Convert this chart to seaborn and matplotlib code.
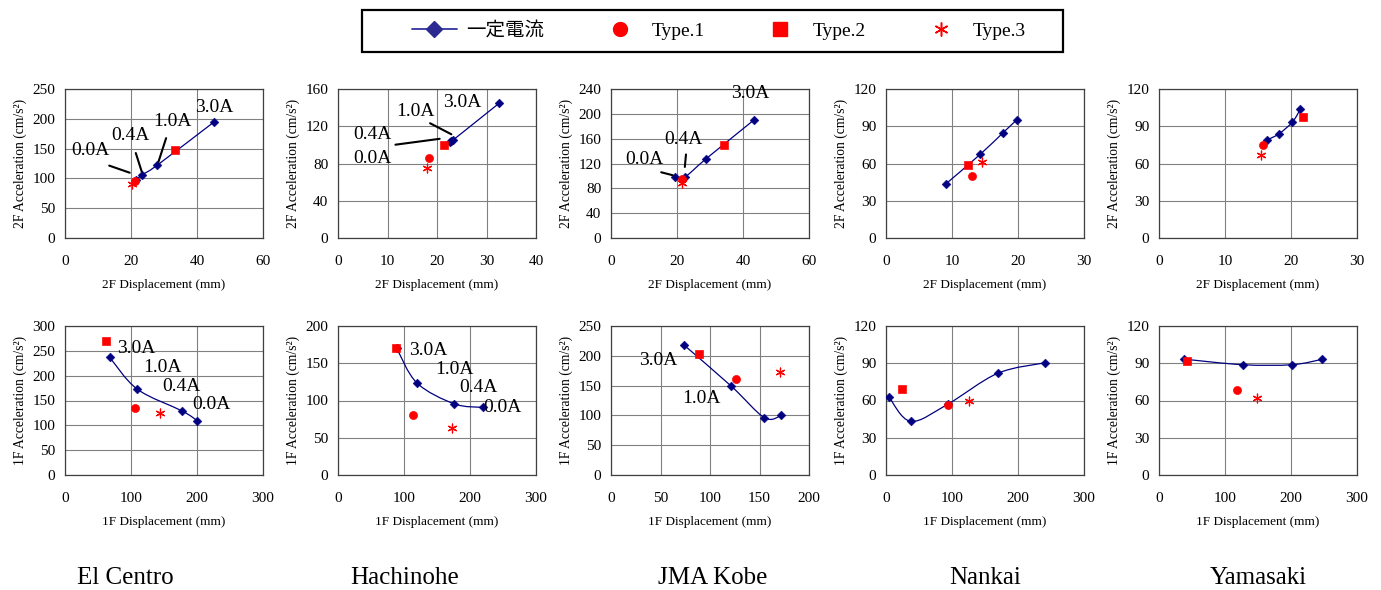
import numpy as np
import seaborn as sns
import matplotlib.pyplot as plt
from matplotlib.path import Path
from matplotlib.patches import PathPatch, Rectangle
from matplotlib.lines import Line2D
from matplotlib.ticker import MultipleLocator

# Wave names (bottom captions)
waves = ['El Centro', 'Hachinohe', 'JMA Kobe', 'Nankai', 'Yamasaki']

# 2F response (top row): constant-current series (0.0A, 0.4A, 1.0A, 3.0A)
disp2_const = [[21.5, 23.4, 27.9, 45.0],
               [22.6, 22.9, 23.2, 32.5],
               [19.3, 22.3, 28.9, 43.3],
               [9.1, 14.3, 17.7, 19.8],
               [16.3, 18.2, 20.2, 21.4]]
acc2_const = [[97, 106, 122, 194],
              [103, 104, 105, 144.5],
              [98, 98, 128, 190],
              [43.7, 67.5, 84.6, 95.1],
              [78.7, 84.0, 93.3, 103.5]]
disp2_type1 = [21.3, 18.3, 21.5, 13.1, 15.8]
acc2_type1 = [95.5, 85.7, 94.8, 49.6, 75.2]
disp2_type2 = [33.4, 21.4, 34.1, 12.4, 21.8]
acc2_type2 = [147, 99.5, 150.5, 58.4, 97.3]
disp2_type3 = [20.2, 18.0, 21.6, 14.6, 15.5]
acc2_type3 = [91, 75, 88.4, 61.3, 67.2]

# 1F response (bottom row)
disp1_const = [[200.2, 177.3, 109.5, 67.8],
               [219.6, 175.9, 119.5, 89.0],
               [172.0, 155.0, 121.6, 73.9],
               [4.1, 37.4, 93.5, 169.2, 241.0],
               [246.6, 201.2, 127.4, 38.2]]
acc1_const = [[109.6, 129, 172.8, 236.7],
              [90.7, 95.6, 123.6, 170],
              [100, 96.1, 148.9, 217.8],
              [63.2, 43.2, 57, 81.9, 90.4],
              [93.1, 88.8, 88.8, 93.3]]
disp1_type1 = [106, 113.4, 126.7, 93.3, 118.2]
acc1_type1 = [134.5, 80, 160.6, 56, 68.5]
disp1_type2 = [62.7, 87.4, 88.6, 24.1, 42.8]
acc1_type2 = [269.7, 170.2, 202.8, 69.3, 91.5]
disp1_type3 = [143.7, 172.3, 171, 125.6, 148.8]
acc1_type3 = [124.4, 63.6, 172.2, 59.5, 62.1]

# axis ranges / tick steps
xlim2 = [(60, 20), (40, 10), (60, 20), (30, 10), (30, 10)]
ylim2 = [(250, 50), (160, 40), (240, 40), (120, 30), (120, 30)]
xlim1 = [(300, 100), (300, 100), (200, 50), (300, 100), (300, 100)]
ylim1 = [(300, 50), (200, 50), (250, 50), (120, 30), (120, 30)]

# current labels: (text, text pos, leader line start, leader line end)
ann2 = {
    0: [('0.0A', (7.7, 147), (12.6, 123), (20.4, 108)),
        ('0.4A', (19.9, 172), (21.2, 147), (23.5, 107)),
        ('1.0A', (32.7, 195), (30.9, 172), (28.1, 124)),
        ('3.0A', (45.3, 219), None, None)],
    1: [('3.0A', (25.1, 145), None, None),
        ('1.0A', (15.6, 136), (18.1, 124.6), (23.4, 110)),
        ('0.4A', (6.9, 111.5), (11.05, 99.8), (21.1, 106.9)),
        ('0.0A', (6.9, 85.7), None, None)],
    2: [('3.0A', (42.2, 233), None, None),
        ('0.4A', (21.8, 159), (22.8, 139), (22.3, 110)),
        ('0.0A', (10.0, 126), (14.4, 107), (19.5, 100))],
}
ann1 = {
    0: [('3.0A', (108, 255.5)), ('1.0A', (147.7, 216)),
        ('0.4A', (176.8, 179)), ('0.0A', (222.6, 142))],
    1: [('3.0A', (137.3, 166.7)), ('1.0A', (176.4, 141.3)),
        ('0.4A', (213.5, 116.9)), ('0.0A', (249, 91))],
    2: [('3.0A', (47.7, 191.7)), ('1.0A', (91, 129))],
}

NAVY = '#000080'
RED = '#ff0000'
ASTER = (6, 2, 0)

sns.set_style('white')
plt.rcParams['font.family'] = ['Liberation Serif', 'Noto Sans CJK JP']
for key in ['text.color', 'axes.labelcolor', 'xtick.color', 'ytick.color']:
    plt.rcParams[key] = 'black'


def smooth_path(xs, ys, xmax, ymax):
    # Excel-like smoothed line (Catmull-Rom as cubic Bezier), computed in scaled space
    sx, sy = xmax / 197.0, ymax / 149.0
    pts = np.c_[np.array(xs) / sx, np.array(ys) / sy]
    n = len(pts)
    verts = [pts[0]]
    codes = [Path.MOVETO]
    for i in range(n - 1):
        p0 = pts[i - 1] if i > 0 else pts[i]
        p1, p2 = pts[i], pts[i + 1]
        p3 = pts[i + 2] if i + 2 < n else pts[i + 1]
        verts += [p1 + (p2 - p0) / 6, p2 - (p3 - p1) / 6, p2]
        codes += [Path.CURVE4] * 3
    verts = np.array(verts) * [sx, sy]
    return Path(verts, codes)


def draw_panel(ax, xc, yc, p1, p2, p3, xl, yl, floor):
    ax.add_patch(PathPatch(smooth_path(xc, yc, xl[0], yl[0]), fill=False,
                           edgecolor=NAVY, lw=0.9, zorder=2))
    sns.scatterplot(x=xc, y=yc, marker='D', color=NAVY, edgecolor=NAVY,
                    s=20, ax=ax, zorder=3)
    sns.scatterplot(x=[p1[0]], y=[p1[1]], marker='o', color=RED, edgecolor=RED,
                    s=34, ax=ax, zorder=4)
    sns.scatterplot(x=[p2[0]], y=[p2[1]], marker='s', color=RED, edgecolor=RED,
                    s=34, ax=ax, zorder=4)
    sns.scatterplot(x=[p3[0]], y=[p3[1]], marker=ASTER, color=RED,
                    s=40, linewidth=0.9, ax=ax, zorder=4)
    ax.set_xlim(0, xl[0])
    ax.set_ylim(0, yl[0])
    ax.xaxis.set_major_locator(MultipleLocator(xl[1]))
    ax.yaxis.set_major_locator(MultipleLocator(yl[1]))
    ax.grid(True, color='#808080', lw=0.8)
    ax.set_axisbelow(True)
    for sp in ax.spines.values():
        sp.set_color('#404040')
        sp.set_linewidth(0.9)
    ax.tick_params(length=0, labelsize=11, pad=7)
    ax.tick_params(axis='x', pad=12)
    ax.set_xlabel(f'{floor} Displacement (mm)', fontsize=9.5, labelpad=8)
    ax.set_ylabel(f'{floor} Acceleration (cm/s²)', fontsize=9.8, labelpad=4)


fig = plt.figure(figsize=(13.81, 5.90), dpi=100)
lefts = [65, 338, 611, 886, 1159]
W, H = 1381.0, 590.0
title_x = [125, 405, 713, 985, 1258]

for i in range(5):
    ax2 = fig.add_axes([lefts[i] / W, 1 - 238 / H, 198 / W, 149 / H])
    draw_panel(ax2, disp2_const[i], acc2_const[i],
               (disp2_type1[i], acc2_type1[i]), (disp2_type2[i], acc2_type2[i]),
               (disp2_type3[i], acc2_type3[i]), xlim2[i], ylim2[i], '2F')
    for txt, tp, ls, le in ann2.get(i, []):
        ax2.text(tp[0], tp[1], txt, fontsize=14, ha='center', va='center', zorder=5)
        if ls is not None:
            ax2.annotate('', xy=le, xytext=ls,
                         arrowprops=dict(arrowstyle='-', lw=1.5, color='black'))

    ax1 = fig.add_axes([lefts[i] / W, 1 - 475 / H, 198 / W, 149 / H])
    draw_panel(ax1, disp1_const[i], acc1_const[i],
               (disp1_type1[i], acc1_type1[i]), (disp1_type2[i], acc1_type2[i]),
               (disp1_type3[i], acc1_type3[i]), xlim1[i], ylim1[i], '1F')
    for txt, tp in ann1.get(i, []):
        ax1.text(tp[0], tp[1], txt, fontsize=14, ha='center', va='center', zorder=5)

    fig.text(title_x[i] / W, 1 - 578 / H, waves[i], fontsize=18,
             ha='center', va='center')

# legend: content spread over the inner span, frame drawn as a separate box
handles = [
    Line2D([], [], color='#3333a0', lw=1.3, marker='D', markersize=8,
           markerfacecolor='#2a2a90', markeredgecolor='#2a2a90'),
    Line2D([], [], color=RED, lw=0, marker='o', markersize=10),
    Line2D([], [], color=RED, lw=0, marker='s', markersize=10),
    Line2D([], [], color=RED, lw=0, marker=ASTER, markersize=10, markeredgewidth=1.1),
]
labels = ['一定電流', 'Type.1', 'Type.2', 'Type.3']
fig.legend(handles, labels, loc='center', ncol=4, mode='expand', frameon=False,
           bbox_to_anchor=(412 / W, 1 - 52 / H, 614 / W, 42 / H),
           borderaxespad=0, borderpad=0, fontsize=14,
           handlelength=2.3, handletextpad=0.5)
fig.patches.append(Rectangle((362 / W, 1 - 52 / H), 701 / W, 42 / H,
                             transform=fig.transFigure, fill=False,
                             edgecolor='black', lw=1.6))

fig.savefig('out.png', dpi=100)
